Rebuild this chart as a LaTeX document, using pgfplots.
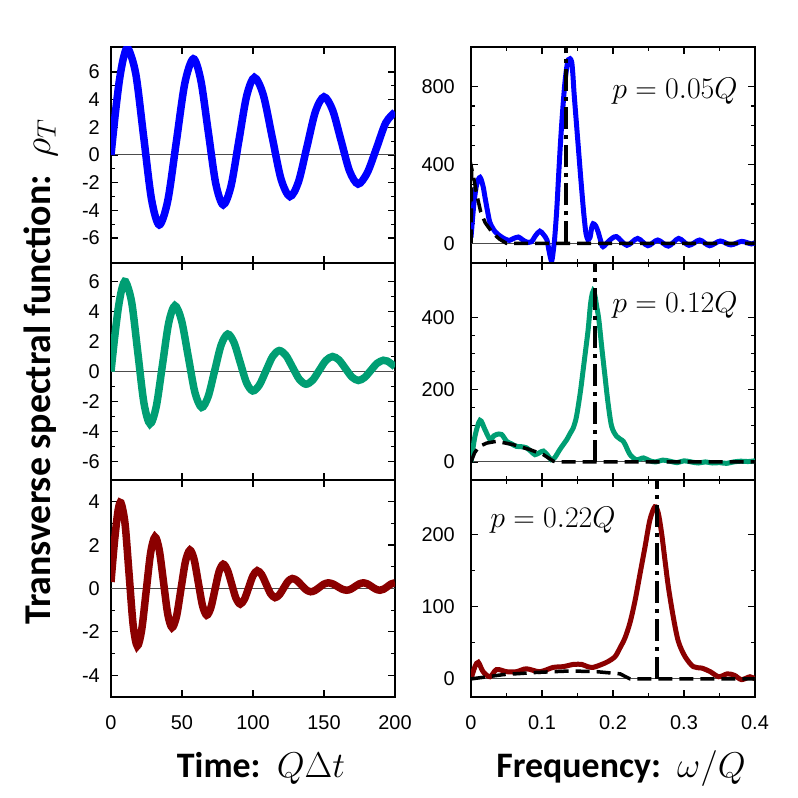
\RequirePackage{fix-cm}
\documentclass[border=0pt]{standalone}
\usepackage[no-math]{fontspec}
\setmainfont{Carlito}
\newfontfamily\tickfont{Liberation Sans}
\usepackage{pgfplots}
\pgfplotsset{compat=1.18}
\definecolor{cblue}{RGB}{0,0,255}
\definecolor{cgreen}{RGB}{0,158,115}
\definecolor{cred}{RGB}{139,0,0}
\pgfplotsset{
  panel/.style={
    scale only axis, width=284bp, anchor=south west,
    axis line style={line width=2.5bp},
    every tick/.style={line width=1.2bp, black},
    major tick length=7bp, minor tick length=4bp,
    tick align=inside,
    xtick pos=both, ytick pos=both,
    xticklabel pos=lower, yticklabel pos=left,
    ticklabel style={font=\tickfont\fontsize{20}{24}\selectfont, inner sep=0pt},
    /pgf/number format/assume math mode=true,
    /pgf/number format/fixed,
  },
  leftpanel/.style={panel, xmin=0, xmax=200, xtick={0,50,100,150,200},
    yticklabel style={xshift=-11bp}, minor y tick num=1},
  rightpanel/.style={panel, xmin=0, xmax=0.4, xtick={0,0.1,0.2,0.3,0.4}, minor x tick num=1,
    yticklabel style={xshift=-16bp}},
  nolabx/.style={xticklabel=\empty},
  labx/.style={xticklabel style={yshift=-18bp}},
  zeroline/.style={gray!60!black, line width=1bp},
  datal/.style={line width=7.5bp, smooth},
  datar/.style={line width=5bp, smooth},
  bdash/.style={black, line width=3.5bp, dash pattern=on 14bp off 7bp},
  bdashdot/.style={black, line width=4bp, dash pattern=on 22bp off 6bp on 4bp off 6bp},
}
\begin{document}
\begin{tikzpicture}
\path[use as bounding box] (0,0) rectangle (798bp,798bp);

% ---------- top left ----------
\begin{axis}[leftpanel, nolabx, at={(111bp,535bp)}, height=216bp,
  ymin=-7.8, ymax=7.8, ytick={-6,-4,-2,0,2,4,6}]
\addplot[zeroline] coordinates {(0,0) (200,0)};
\addplot[datal, cblue] coordinates {
(0,0)(3,2.95)(6,5.45)(9,7.1)(12,7.7)
(17.5,5.83)(23,1.325)(28.5,-3.18)(34,-5.05)
(40,-3.29)(46,0.95)(52,5.19)(58,6.95)
(63.25,5.40)(68.5,1.675)(73.75,-2.05)(79,-3.6)
(84.5,-2.25)(90,1.0)(95.5,4.25)(101,5.6)
(107.25,4.34)(113.5,1.3)(119.75,-1.74)(126,-3.0)
(132,-1.95)(138,0.6)(144,3.15)(150,4.2)
(156,3.26)(162,1.05)(168,-1.16)(174,-2.1)
(180.5,-1.28)(187,0.5)(193.5,2.33)(200,3.1)};
\end{axis}

% ---------- middle left ----------
\begin{axis}[leftpanel, nolabx, at={(111bp,318bp)}, height=217bp,
  ymin=-7.25, ymax=7.25, ytick={-6,-4,-2,0,2,4,6}]
\addplot[zeroline] coordinates {(0,0) (200,0)};
\addplot[datal, cgreen] coordinates {
(0,0)(2.6,2.3)(5.15,4.24)(7.7,5.54)(10.3,6.0)
(14.6,4.61)(18.9,1.25)(23.2,-2.11)(27.5,-3.5)
(31.875,-2.34)(36.25,0.45)(40.625,3.24)(45,4.4)
(49.7,3.40)(54.4,1.0)(59.1,-1.40)(63.8,-2.4)
(68.4,-1.68)(73,0.05)(77.6,1.78)(82.2,2.5)
(86.6,1.94)(91,0.6)(95.4,-0.74)(99.8,-1.3)
(104.5,-0.90)(109.15,0.05)(113.8,1.0)(118.5,1.4)
(123.2,1.07)(127.9,0.275)(132.6,-0.52)(137.3,-0.85)
(142,-0.58)(146.65,0.075)(151.3,0.73)(156,1.0)
(160.55,0.77)(165.1,0.2)(169.65,-0.37)(174.2,-0.6)
(178.6,-0.40)(183,0.075)(187.4,0.55)(191.8,0.75)
(194.5,0.7)(197.3,0.52)(200,0.32)};
\end{axis}

% ---------- bottom left ----------
\begin{axis}[leftpanel, labx, at={(111bp,101bp)}, height=217bp,
  ymin=-5, ymax=5, ytick={-4,-2,0,2,4}]
\addplot[zeroline] coordinates {(0,0) (200,0)};
\addplot[datal, cred] coordinates {
(0,0.3)(2.5,2.2)(5,3.6)(7,3.95)(9.9,2.98)(12.75,0.65)(15.6,-1.68)(18.5,-2.65)
(21.6,-1.91)(24.75,-0.135)(27.9,1.64)(31,2.38)(34,1.77)(37,0.29)(40,-1.19)(43,-1.8)
(46.15,-1.28)(49.3,-0.015)(52.45,1.25)(55.6,1.77)(58.55,1.33)(61.5,0.27)(64.45,-0.79)
(67.4,-1.23)(70.3,-0.89)(73.2,-0.055)(76.1,0.78)(79,1.12)(82,0.85)(85,0.2)(88,-0.45)
(91,-0.72)(94,-0.49)(97,0.05)(100,0.59)(103,0.82)(106.1,0.64)(109.25,0.2)(112.4,-0.24)
(115.5,-0.42)(118.55,-0.29)(121.6,0.02)(124.65,0.33)(127.7,0.46)(130.9,0.37)
(134.15,0.155)(137.4,-0.06)(140.6,-0.15)(143.7,-0.09)(146.8,0.055)(149.9,0.2)(153,0.26)
(156.25,0.21)(159.5,0.09)(162.75,-0.03)(166,-0.08)(168.9,-0.03)(171.85,0.09)(174.8,0.21)
(177.7,0.26)(180.6,0.21)(183.55,0.09)(186.5,-0.03)(189.4,-0.08)(192.05,-0.03)(194.7,0.09)
(197.35,0.21)(200,0.26)};
\end{axis}

% ---------- top right ----------
\begin{axis}[rightpanel, nolabx, at={(471bp,535bp)}, height=216bp,
  ymin=-100, ymax=1000, ytick={0,400,800}, minor y tick num=3]
\addplot[zeroline] coordinates {(0,0) (0.4,0)};
\addplot[datar, cblue] coordinates {
(0,30)(0.004,200)(0.008,300)(0.0127,336)(0.017,290)(0.0197,235)(0.0235,160)(0.0268,105)
(0.0338,60)(0.042,35)(0.048,22)(0.054,15)(0.06,25)(0.0667,32)(0.072,20)(0.078,7)(0.085,8)
(0.091,40)(0.097,62)(0.102,45)(0.107,17)(0.110,-40)(0.1136,-90)(0.1165,-20)(0.118,32)
(0.1207,167)(0.123,319)(0.1255,480)(0.1277,605)(0.130,720)(0.1324,823)(0.135,900)
(0.137,935)(0.1395,940)(0.1418,924)(0.1435,860)(0.145,773)(0.1479,638)(0.1512,487)
(0.1545,336)(0.158,185)(0.160,110)(0.162,50)(0.1645,20)(0.1676,30)(0.170,80)(0.172,100)
(0.1755,90)(0.179,59)(0.1825,15)(0.186,-17)(0.195,15)(0.205,34)(0.2195,-10)(0.2347,25)
(0.249,-12)(0.263,17)(0.278,-14)(0.2925,25)(0.307,-10)(0.322,17)(0.336,-12)(0.351,12)
(0.366,-8)(0.381,10)(0.395,-3)(0.4,5)};
\addplot[bdash] coordinates {
(0,0)(0.001,380)(0.004,330)(0.008,250)(0.0137,160)(0.02,105)(0.03,55)(0.04,22)(0.05,0)(0.4,0)};
\addplot[bdashdot] coordinates {(0.1333,0) (0.1333,1000)};
\end{axis}

% ---------- middle right ----------
\begin{axis}[rightpanel, nolabx, at={(471bp,318bp)}, height=217bp,
  ymin=-50, ymax=550, ytick={0,200,400}, minor y tick num=3]
\addplot[zeroline] coordinates {(0,0) (0.4,0)};
\addplot[datar, cgreen] coordinates {
(0,0)(0.0056,71)(0.0127,115)(0.0197,89)(0.0268,62)(0.032,72)(0.036,76)(0.043,76)
(0.0502,57)(0.057,50)(0.064,43)(0.071,42)(0.078,39)(0.084,30)(0.09,20)(0.096,25)(0.102,30)
(0.108,18)(0.113,6)(0.118,12)(0.125,34)(0.130,48)(0.135,62)(0.140,80)(0.144,94)(0.148,120)
(0.151,154)(0.1545,200)(0.158,255)(0.1615,310)(0.165,366)(0.168,430)(0.170,458)(0.172,472)
(0.1745,460)(0.177,430)(0.180,394)(0.184,320)(0.1887,237)(0.193,163)(0.198,99)(0.205,71)
(0.2145,57)(0.219,40)(0.224,20)(0.233,6)(0.243,11)(0.252,3)(0.26,0)(0.27,5)(0.28,2)
(0.29,-2)(0.3,3)(0.31,0)(0.32,-3)(0.33,0)(0.34,-3)(0.35,-2)(0.36,-4)(0.37,0)(0.38,2)
(0.39,1)(0.4,3)};
\addplot[bdash] coordinates {
(0,0)(0.005,25)(0.011,42)(0.022,52)(0.036,57)(0.059,48)(0.083,34)(0.102,20)(0.116,2)(0.12,0)(0.4,0)};
\addplot[bdashdot] coordinates {(0.1746,0) (0.1746,550)};
\end{axis}

% ---------- bottom right ----------
\begin{axis}[rightpanel, labx, at={(471bp,101bp)}, height=217bp,
  ymin=-25, ymax=275, ytick={0,100,200}, minor y tick num=1]
\addplot[zeroline] coordinates {(0,0) (0.4,0)};
\addplot[datar, cred] coordinates {
(0,0)(0.0056,17)(0.0103,23)(0.017,10)(0.0268,3)(0.036,13)(0.05,10)(0.064,10)(0.078,14)
(0.097,10)(0.116,16)(0.130,17)(0.144,20)(0.156,20)(0.164,17)(0.172,16)(0.184,20)(0.193,24)
(0.203,31)(0.2099,43)(0.217,57)(0.224,78)(0.231,108)(0.238,145)(0.245,182)(0.252,220)
(0.259,238)(0.2638,229)(0.2685,201)(0.2732,164)(0.278,127)(0.285,85)(0.292,52)(0.3014,31)
(0.313,17)(0.325,15)(0.337,10)(0.349,3)(0.361,7)(0.371,5)(0.381,-1)(0.393,3)(0.4,0)};
\addplot[bdash] coordinates {
(0,0)(0.046,6)(0.093,9)(0.14,11)(0.177,10)(0.21,7)(0.224,0)(0.4,0)};
\addplot[bdashdot] coordinates {(0.2615,0) (0.2615,275)};
\end{axis}

% ---------- labels ----------
\node[anchor=base, font=\fontsize{30}{34}\selectfont] at (675bp,699bp) {$p = 0.05Q$};
\node[anchor=base, font=\fontsize{30}{34}\selectfont] at (675bp,485bp) {$p = 0.12Q$};
\node[anchor=base, font=\fontsize{30}{34}\selectfont] at (553bp,270bp) {$p = 0.22Q$};
\node[anchor=base, font=\fontsize{36}{40}\selectfont\bfseries] at (261bp,21bp) {Time:~~$Q\Delta t$};
\node[anchor=base, font=\fontsize{36}{40}\selectfont\bfseries] at (621bp,21bp) {Frequency:~~$\omega/Q$};
\node[anchor=base, rotate=90, font=\fontsize{38}{42}\selectfont\bfseries] at (50bp,426bp) {Transverse spectral function:~~$\rho_T$};
\end{tikzpicture}
\end{document}
